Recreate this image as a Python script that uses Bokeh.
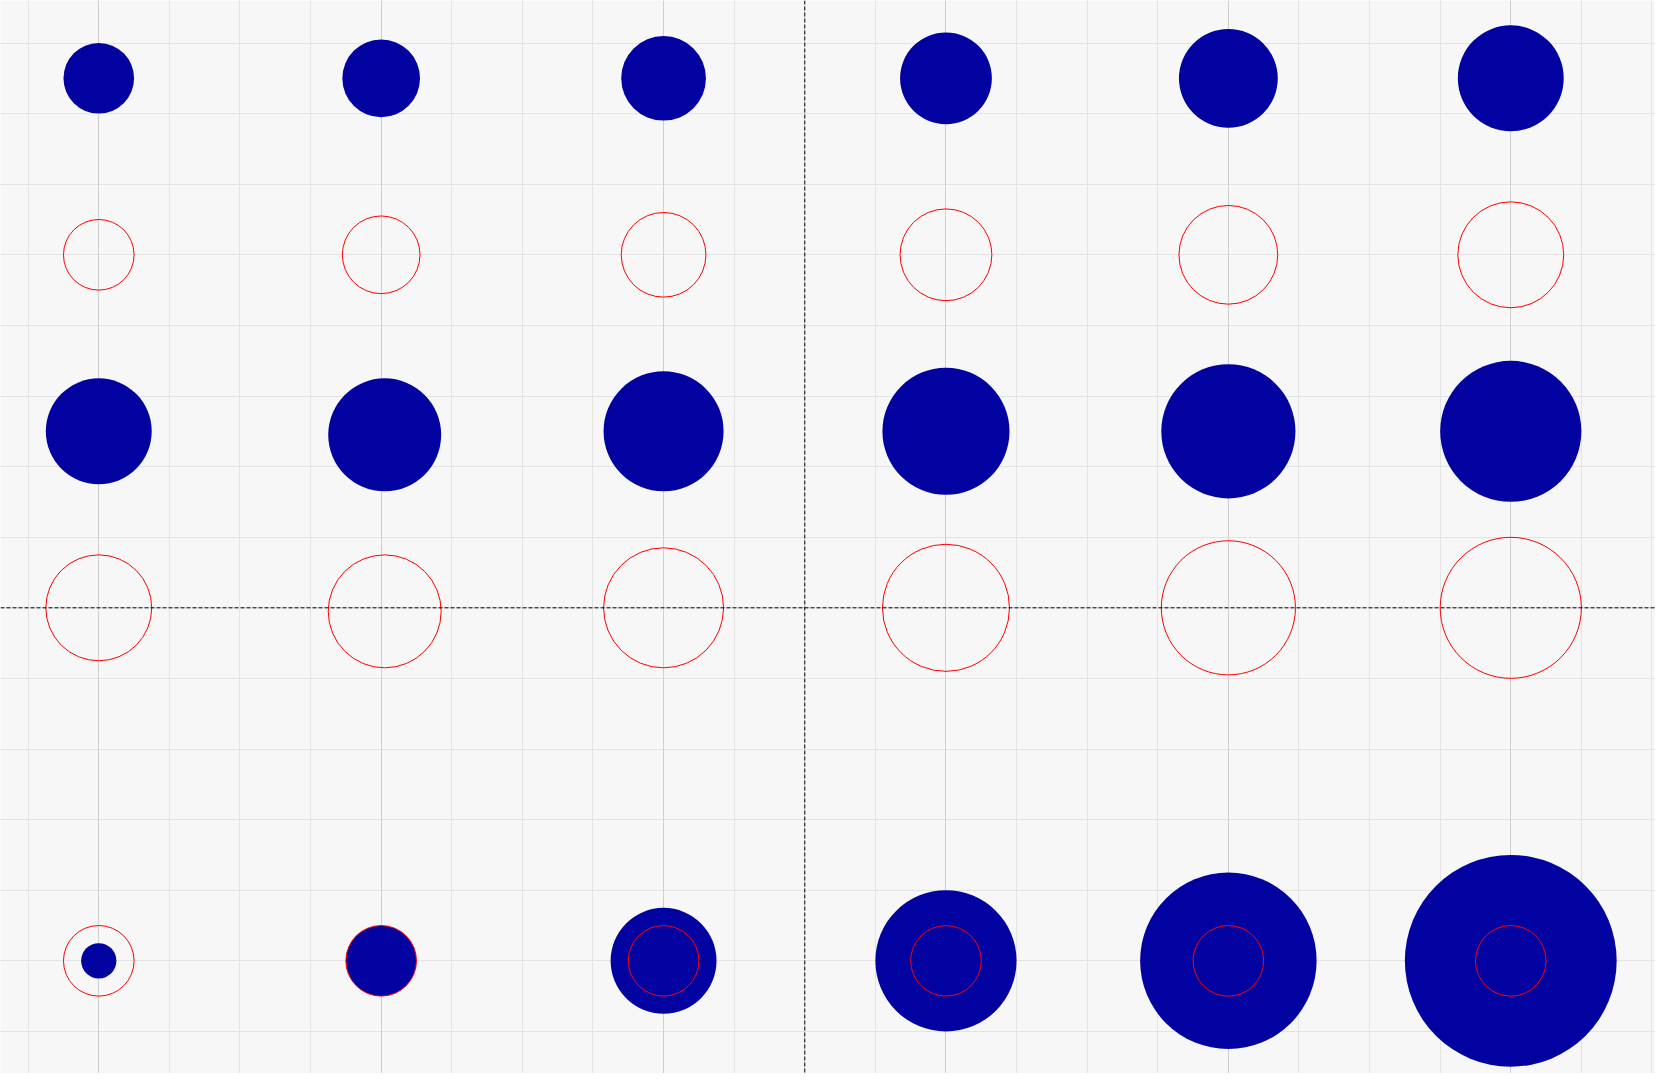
from bokeh.plotting import figure
from bokeh.models import ColumnDataSource, Span, FixedTicker, Grid
from bokeh.embed import file_html
from bokeh.resources import INLINE

# Data
xs = [-10, -6, -2, 2, 6, 10]
xs_large = [-10, -5.95, -2, 2, 6, 10]
row1_y = [7.5] * 6
row2_y = [5.0] * 6
row3_y = [2.5, 2.45, 2.5, 2.5, 2.5, 2.5]
row4_y = [0.0, -0.05, 0.0, 0.0, 0.0, 0.0]
row5_y = [-5.0] * 6
radii_small = [0.5, 0.55, 0.6, 0.65, 0.7, 0.75]
radii_large = [0.75, 0.8, 0.85, 0.9, 0.95, 1.0]
radii_bottom = [0.25, 0.5, 0.75, 1.0, 1.25, 1.5]
radius_ref = [0.5, 0.5, 0.5, 0.5, 0.5, 0.5]
grid_ticks = list(range(-15, 16))

BLUE = "#0202a0"
RED = "red"

p = figure(width=1655, height=1073, output_backend="svg", toolbar_location=None,
           x_range=(-11.392, 12.050), y_range=(-6.596, 8.602),
           x_axis_location=None, y_axis_location=None,
           min_border=0, background_fill_color="#f7f7f7",
           border_fill_color="#f7f7f7", outline_line_color=None)

p.xgrid.ticker = FixedTicker(ticks=grid_ticks)
p.ygrid.ticker = FixedTicker(ticks=grid_ticks)
p.xgrid.grid_line_color = "#e3e3e3"
p.ygrid.grid_line_color = "#e3e3e3"
p.add_layout(Grid(dimension=0, ticker=FixedTicker(ticks=xs), grid_line_color="#cfcfcf"))

def src(x, y, r):
    return ColumnDataSource(dict(x=x, y=y, r=r))

p.circle("x", "y", radius="r", source=src(xs, row1_y, radii_small), fill_color=BLUE, line_color=None)
p.circle("x", "y", radius="r", source=src(xs, row2_y, radii_small), fill_color=None, line_color=RED, line_width=1)
p.circle("x", "y", radius="r", source=src(xs_large, row3_y, radii_large), fill_color=BLUE, line_color=None)
p.circle("x", "y", radius="r", source=src(xs_large, row4_y, radii_large), fill_color=None, line_color=RED, line_width=1)
p.circle("x", "y", radius="r", source=src(xs, row5_y, radii_bottom), fill_color=BLUE, line_color=None)
p.circle("x", "y", radius="r", source=src(xs, row5_y, radius_ref), fill_color=None, line_color=RED, line_width=1)

p.add_layout(Span(location=0, dimension="width", line_color="black", line_dash="4 2", line_width=1))
p.add_layout(Span(location=0, dimension="height", line_color="black", line_dash="4 2", line_width=1))

open("out.html", "w").write(file_html(p, INLINE))
